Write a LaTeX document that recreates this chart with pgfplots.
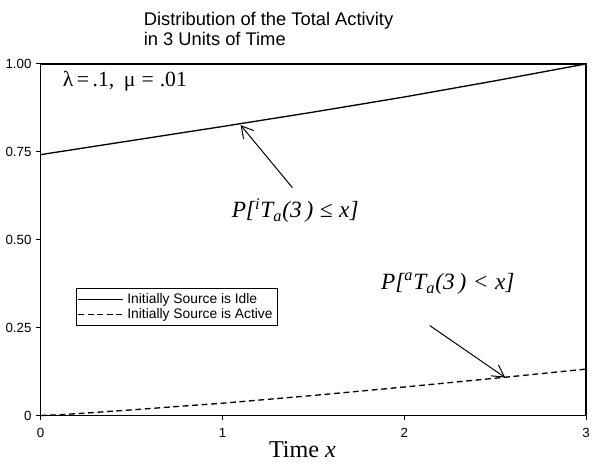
\documentclass[border=0pt]{standalone}
\usepackage{pgfplots}
\pgfplotsset{compat=1.18}
\usetikzlibrary{arrows.meta}
\usepackage{fontspec}
\setmainfont{Liberation Sans}
\newfontfamily\serif{Liberation Serif}
\begin{document}
\begin{tikzpicture}
\begin{axis}[
  at={(0,0)}, anchor=south west,
  width=327.6pt, height=211.2pt, scale only axis,
  xmin=0, xmax=3, ymin=0, ymax=1,
  clip=false,
  xtick={0,1,2,3}, xticklabels={0,1,2,3},
  ytick={0,0.25,0.5,0.75,1}, yticklabels={0,0.25,0.50,0.75,1.00},
  tick align=outside, major tick length=3pt,
  xtick pos=bottom, ytick pos=left,
  tick label style={font=\fontsize{8}{9}\selectfont},
  /pgf/number format/assume math mode=true,
  xticklabel style={yshift=-1pt},
  yticklabel style={xshift=1pt},
  axis line style={line width=0.8pt},
  every tick/.style={black, line width=0.6pt},
  legend style={at={(axis description cs:0.064,0.364)}, anchor=north west,
    font=\fontsize{8.3}{8.3}\selectfont, draw=black, line width=0.6pt,
    inner sep=1pt, row sep=-2.5pt, cells={anchor=west},
    legend cell align=left},
  legend image code/.code={\draw[#1] (0cm,0cm) -- (0.95cm,0cm);},
]
\addplot[black, line width=0.8pt] coordinates {
  (0,0.742) (0.5,0.782) (1,0.822) (1.5,0.863) (2,0.906) (2.5,0.952) (3,1.0)};
\addlegendentry{Initially Source is Idle}
\addplot[black, line width=0.8pt, dash pattern=on 3.5pt off 2.2pt] coordinates {
  (0,0) (0.1,0.002) (0.25,0.007) (0.5,0.016) (1,0.035) (1.5,0.057) (2,0.081) (2.5,0.106) (3,0.132)};
\addlegendentry{Initially Source is Active}

\node[anchor=base west, font=\fontsize{11}{12}\selectfont, inner sep=0pt] at (axis cs:0.566,1.108) {Distribution of the Total Activity};
\node[anchor=base west, font=\fontsize{11}{12}\selectfont, inner sep=0pt] at (axis cs:0.566,1.051) {in 3 Units of Time};

\node[anchor=base west, inner sep=0pt, font=\serif\fontsize{13}{15}\selectfont] at (axis cs:0.12,0.935) {λ\,=\,.1,\;\,μ\;=\;.01};

\node[anchor=base, inner sep=0pt, font=\serif\itshape\fontsize{14}{16}\selectfont] at (axis cs:1.40,0.5625) {P[\textsuperscript{i}T\textsubscript{a}(3\,)\;≤\;x]};
\draw[-{Straight Barb[length=7pt,width=8pt]}, line width=0.6pt] (axis cs:1.385,0.648) -- (axis cs:1.10,0.826);

\node[anchor=base, inner sep=0pt, font=\serif\itshape\fontsize{14}{16}\selectfont] at (axis cs:2.24,0.358) {P[\textsuperscript{a}T\textsubscript{a}(3\,)\;<\;x]};
\draw[-{Straight Barb[length=7pt,width=8pt]}, line width=0.6pt] (axis cs:2.14,0.256) -- (axis cs:2.555,0.108);

\node[anchor=base, inner sep=0pt, font=\serif\fontsize{14.5}{16}\selectfont] at (axis cs:1.44,-0.12) {Time \textit{x}};
\end{axis}
\path[use as bounding box] (-24pt,-30pt) rectangle (336pt,249.6pt);
\end{tikzpicture}
\end{document}
